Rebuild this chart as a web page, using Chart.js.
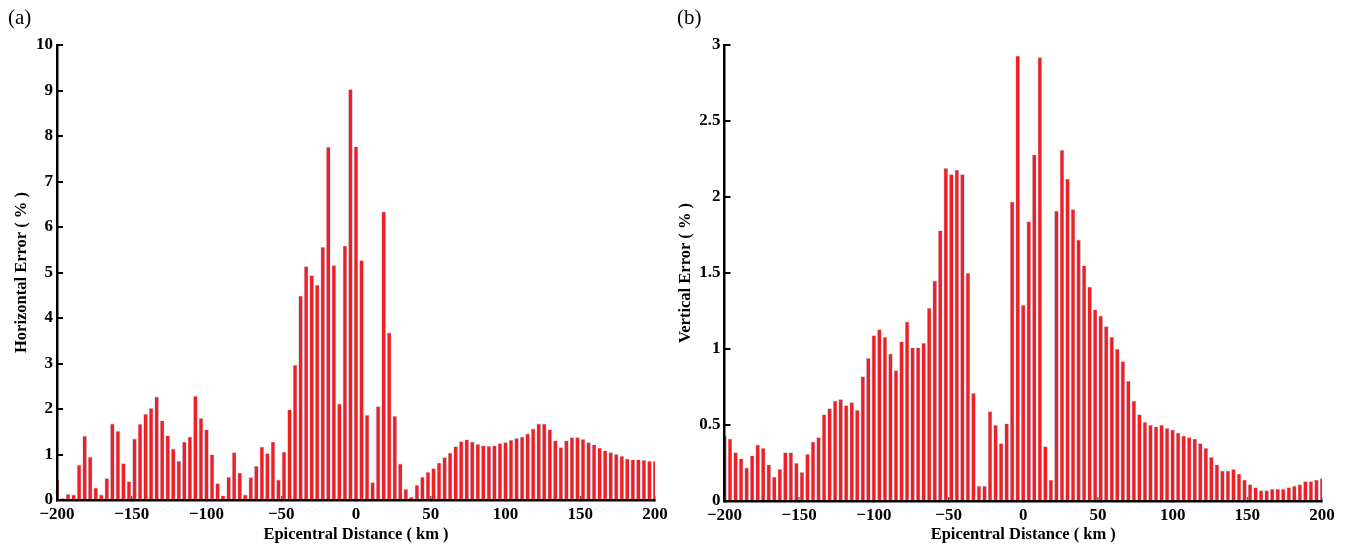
<!DOCTYPE html>
<html><head><meta charset="utf-8">
<script src="https://cdn.jsdelivr.net/npm/chart.js@4/dist/chart.umd.min.js"></script>
<style>
body{margin:0;background:#fff;width:1347px;height:545px;position:relative;overflow:hidden;font-family:"Liberation Serif",serif}
canvas{position:absolute;top:0}
.panel{position:absolute;top:5px;font-size:21px;color:#000;font-family:"Liberation Serif",serif}
</style></head><body>
<canvas id="c1" width="685" height="545" style="left:0"></canvas>
<canvas id="c2" width="677" height="545" style="left:670px"></canvas>
<div class="panel" style="left:8px">(a)</div>
<div class="panel" style="left:677px">(b)</div>
<script>
// Bin grid: 109 bins spanning -200 .. 200 km
const distStart = -200, distEnd = 200, binCount = 109;

// (a) Horizontal error (%)
const horizontalError = [
  0.45,0.04,0.13,0.12,0.77,1.41,0.95,0.27,0.12,0.48,
  1.68,1.52,0.81,0.41,1.35,1.67,1.89,2.02,2.27,1.75,
  1.42,1.13,0.86,1.28,1.39,2.29,1.80,1.55,1.00,0.37,
  0.10,0.51,1.05,0.60,0.12,0.50,0.75,1.17,1.03,1.28,
  0.45,1.06,1.99,2.97,4.49,5.14,4.94,4.73,5.56,7.76,
  5.16,2.12,5.59,9.03,7.77,5.27,1.87,0.39,2.06,6.34,
  3.68,1.85,0.80,0.24,0.07,0.33,0.51,0.62,0.70,0.82,
  0.94,1.04,1.18,1.29,1.33,1.28,1.23,1.20,1.19,1.20,
  1.25,1.27,1.32,1.36,1.39,1.46,1.57,1.68,1.68,1.55,
  1.31,1.16,1.31,1.38,1.38,1.34,1.27,1.22,1.15,1.09,
  1.05,1.01,0.97,0.91,0.89,0.89,0.88,0.86,0.86
];

// (b) Vertical error (%)
const verticalError = [
  0.43,0.41,0.32,0.28,0.22,0.30,0.37,0.35,0.24,0.16,
  0.21,0.32,0.32,0.25,0.19,0.31,0.39,0.42,0.57,0.61,
  0.66,0.67,0.63,0.65,0.60,0.82,0.94,1.09,1.13,1.08,
  0.97,0.86,1.05,1.18,1.01,1.01,1.04,1.27,1.45,1.78,
  2.19,2.15,2.18,2.15,1.50,0.71,0.10,0.10,0.59,0.50,
  0.38,0.51,1.97,2.93,1.29,1.84,2.28,2.92,0.36,0.14,
  1.91,2.31,2.12,1.92,1.72,1.55,1.41,1.26,1.22,1.15,
  1.08,1.00,0.92,0.79,0.66,0.57,0.52,0.50,0.49,0.50,
  0.48,0.47,0.45,0.43,0.42,0.41,0.38,0.35,0.29,0.24,
  0.20,0.20,0.21,0.18,0.14,0.11,0.09,0.07,0.07,0.08,
  0.08,0.08,0.09,0.10,0.11,0.13,0.13,0.14,0.15
];

const xTickValues = [-200,-150,-100,-50,0,50,100,150,200];
const yTicksA = [0,1,2,3,4,5,6,7,8,9,10];
const yTicksB = [0,0.5,1,1.5,2,2.5,3];

const distances = Array.from({length: binCount}, (_, i) => distStart + i * (distEnd - distStart) / (binCount - 1));

const tickFont = {family: 'Liberation Serif', size: 17, weight: 'bold'};
const titleFont = {family: 'Liberation Serif', size: 16.5, weight: 'bold'};
const fmt = v => (v < 0 ? '\u2212' + Math.abs(v) : String(v));

function makeChart(id, values, yTicks, yTitle, yWidth, padRight, titlePad, xHeight) {
  return new Chart(document.getElementById(id), {
    type: 'bar',
    data: {
      datasets: [{
        data: distances.map((d, i) => ({x: d, y: values[i]})),
        backgroundColor: '#ee2026',
        borderColor: '#a9bfd2',
        borderWidth: 0.6,
        barPercentage: 0.82,
        categoryPercentage: 1,
        clip: 0
      }]
    },
    options: {
      responsive: false,
      animation: false,
      layout: {padding: {left: 0, right: padRight, top: 45, bottom: 0}},
      plugins: {legend: {display: false}, tooltip: {enabled: false}},
      scales: {
        x: {
          type: 'linear', min: distStart, max: distEnd, offset: false,
          afterBuildTicks: s => { s.ticks = xTickValues.map(v => ({value: v})); },
          ticks: {color: '#000', font: tickFont, padding: 8, maxRotation: 0, autoSkip: false, callback: v => fmt(v)},
          grid: {offset: false, drawOnChartArea: false, drawTicks: true, tickLength: -4, color: '#555', lineWidth: 1.5},
          border: {display: true, color: '#000', width: 2.5, z: 1},
          title: {display: true, text: 'Epicentral Distance ( km )', color: '#000', font: titleFont, padding: {top: 0, bottom: 0}},
          afterFit: s => { s.height = xHeight; }
        },
        y: {
          min: 0, max: yTicks[yTicks.length - 1],
          afterBuildTicks: s => { s.ticks = yTicks.map(v => ({value: v})); },
          ticks: {color: '#000', font: tickFont, padding: 10, autoSkip: false, callback: v => String(v)},
          grid: {drawOnChartArea: false, drawTicks: true, tickLength: -6, color: '#000', lineWidth: 2, z: 1},
          border: {display: true, color: '#000', width: 2.5, z: 1},
          title: {display: true, text: yTitle, color: '#000', font: titleFont, padding: {top: titlePad, bottom: 0}},
          afterFit: s => { s.width = yWidth; }
        }
      }
    }
  });
}

makeChart('c1', horizontalError, yTicksA, 'Horizontal Error ( % )', 57, 30, 12, 45);
makeChart('c2', verticalError, yTicksB, 'Vertical Error ( % )', 54.5, 25, 6, 44);
</script>
</body></html>
